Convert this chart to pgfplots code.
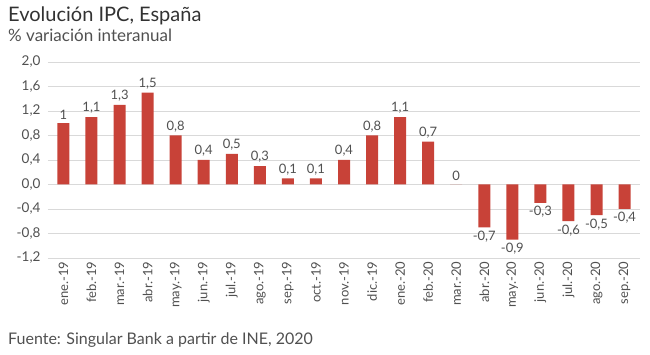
\documentclass[border=0pt]{standalone}
\usepackage{pgfplots}
\pgfplotsset{compat=1.18}
\usepackage{fontspec}
\setmainfont{Lato}
\definecolor{barred}{RGB}{200,66,56}
\definecolor{gridgray}{RGB}{217,217,217}
\definecolor{txtgray}{RGB}{80,80,80}
\definecolor{titlegray}{RGB}{50,50,50}
\begin{document}
\begin{tikzpicture}
\path[use as bounding box] (-48pt,-97pt) rectangle (602pt,258pt);
\begin{axis}[
  at={(0pt,0pt)}, anchor=south west,
  scale only axis, width=592pt, height=196pt,
  xmin=-0.55, xmax=20.55, ymin=-1.2, ymax=2.0,
  ytick={-1.2,-0.8,-0.4,0,0.4,0.8,1.2,1.6,2.0},
  yticklabel style={font=\fontsize{13.5}{15}\selectfont, text=txtgray, xshift=-4pt,
    /pgf/number format/fixed, /pgf/number format/fixed zerofill,
    /pgf/number format/precision=1, /pgf/number format/use comma,
    /pgf/number format/assume math mode=true},
  xtick={0,...,20},
  xticklabels={ene.-19,feb.-19,mar.-19,abr.-19,may.-19,jun.-19,jul.-19,ago.-19,sep.-19,oct.-19,nov.-19,dic.-19,ene.-20,feb.-20,mar.-20,abr.-20,may.-20,jun.-20,jul.-20,ago.-20,sep.-20},
  xticklabel style={rotate=90, anchor=east, font=\fontsize{13}{15}\selectfont, text=txtgray},
  major tick length=0pt,
  axis line style={draw=none},
  ymajorgrids, grid style={gridgray, line width=0.8pt},
  clip=false,
]
\addplot[ybar, bar shift=0pt, fill=barred, draw=none, bar width=12pt,
  nodes near coords, point meta=explicit symbolic,
  nodes near coords style={font=\fontsize{13}{15}\selectfont, text=txtgray, anchor=south}]
  table[x=x, y=y, meta=lab] {
x y lab
0 1.0 1
1 1.1 1,1
2 1.3 1,3
3 1.5 1,5
4 0.8 0,8
5 0.4 0,4
6 0.5 0,5
7 0.3 0,3
8 0.1 0,1
9 0.1 0,1
10 0.4 0,4
11 0.8 0,8
12 1.1 1,1
13 0.7 0,7
14 0.0 0
};
\addplot[ybar, bar shift=0pt, fill=barred, draw=none, bar width=12pt,
  nodes near coords, point meta=explicit symbolic,
  nodes near coords style={font=\fontsize{13}{15}\selectfont, text=txtgray, anchor=north}]
  table[x=x, y=y, meta=lab] {
x y lab
15 -0.7 -0,7
16 -0.9 -0,9
17 -0.3 -0,3
18 -0.6 -0,6
19 -0.5 -0,5
20 -0.4 -0,4
};
\end{axis}
\node[anchor=base west, inner sep=0pt, text=titlegray, font=\fontsize{20}{23}\selectfont] at (-40pt,236pt) {Evolución IPC, España};
\node[anchor=base west, inner sep=0pt, text=txtgray, font=\fontsize{17}{20}\selectfont] at (-40pt,216pt) {\% variación interanual};
\node[anchor=base west, inner sep=0pt, text=txtgray, font=\fontsize{16}{19}\selectfont] at (-40pt,-87pt) {Fuente: Singular Bank a partir de INE, 2020};
\end{tikzpicture}
\end{document}
